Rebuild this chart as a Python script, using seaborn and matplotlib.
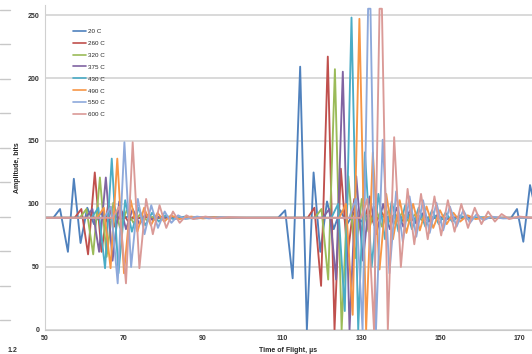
import numpy as np
import pandas as pd
import matplotlib.pyplot as plt
import seaborn as sns
from matplotlib.lines import Line2D

# extrema: (time of flight in us, amplitude in bits)
t_20 = [50, 52.1, 53.8, 55.8, 57.3, 59.0, 60.7, 62.4, 64.1, 65.8, 67.5, 69.2, 71, 73, 75, 77, 80, 83, 86, 90,
        109, 110.8, 112.7, 114.6, 116.3, 118.0, 119.7, 121.4, 123.1, 124.8, 126.5, 128.2, 130, 131.7, 133.4, 135,
        140, 142, 143.7, 145.4, 147.1, 148.8, 150.5, 155, 168, 169.5, 171.1, 172.8, 173.6]
a_20 = [89, 89, 96, 62, 120, 69, 97, 84, 93, 86, 91, 88, 90, 88, 90, 88.5, 89.5, 88.5, 89.5, 89,
        89, 95, 41, 209, 0, 125, 62, 102, 80, 95, 84, 93, 86, 91, 88, 90,
        89, 92, 85, 92, 86, 90, 88, 89, 89, 96, 70, 115, 104]

t_260 = [50, 57.5, 59.2, 60.9, 62.6, 64.3, 66.0, 67.7, 69.4, 71.1, 72.8, 74.5, 76.2, 78, 81, 84, 87, 91,
         116.5, 118.2, 119.9, 121.6, 123.3, 124.9, 126.6, 128.3, 130, 131.7, 133.4, 135.1, 136.8, 138.5, 140.2,
         141.9, 143.6, 145.3, 147, 149, 152, 156, 173.6]
a_260 = [89, 89, 96, 60, 125, 62, 100, 82, 94, 86, 91, 88, 90, 88.5, 89.5, 88.5, 89.5, 89,
         89, 97, 35, 217, 0, 128, 58, 104, 78, 97, 83, 94, 85, 92, 86,
         92, 86, 91, 87, 90, 88.5, 89, 89]

t_320 = [50, 58.8, 60.5, 62.2, 63.9, 65.6, 67.3, 69.0, 70.7, 72.4, 74.1, 75.8, 77.5, 80, 83, 86, 89, 93,
         118.3, 120, 121.7, 123.4, 125.1, 126.8, 128.5, 130.2, 131.9, 133.6, 135.3, 137, 138.7, 140.4, 142.1,
         143.8, 145.5, 147.5, 150, 154, 173.6]
a_320 = [89, 89, 96, 60, 121, 58, 101, 81, 95, 85, 92, 87, 90, 88.5, 89.5, 88.5, 89.5, 89,
         89, 96, 40, 207, 0, 122, 57, 104, 78, 98, 82, 95, 84, 93, 86,
         92, 87, 90, 88.5, 89, 89]

t_375 = [50, 60.3, 62.0, 63.7, 65.4, 67.1, 68.8, 70.5, 72.2, 73.9, 75.6, 77.3, 79, 81.5, 84.5, 87.5, 90.5, 95,
         120.3, 122, 123.7, 125.4, 127.1, 128.8, 130.5, 132.2, 133.9, 135.6, 137.3, 139, 140.7, 142.4, 144.1,
         145.8, 147.5, 149.2, 151, 154, 158, 173.6]
a_375 = [89, 89, 96, 62, 121, 55, 102, 80, 96, 84, 92, 87, 90, 88.5, 89.5, 88.5, 89.5, 89,
         89, 96, 40, 205, 0, 122, 55, 106, 76, 100, 80, 97, 82, 95, 84,
         93, 86, 91, 88, 89.5, 89, 89]

t_430 = [50, 61.8, 63.5, 65.2, 66.9, 68.6, 70.3, 72, 73.7, 75.4, 77.1, 78.8, 80.5, 82.5, 85.5, 88.5, 91.5, 96,
         122.5, 124.2, 125.9, 127.6, 129.3, 131.0, 132.7, 134.4, 136.1, 137.8, 139.5, 141.2, 142.9, 144.6, 146.3,
         148, 149.7, 151.4, 153.1, 155, 157, 160, 163, 173.6]
a_430 = [89, 89, 97, 49, 136, 45, 103, 78, 97, 83, 93, 86, 91, 88, 90, 88.5, 89.5, 89,
         89, 100, 15, 248, 0, 141, 50, 108, 72, 102, 78, 99, 80, 97, 82,
         95, 84, 93, 86, 91, 88, 89.5, 89, 89]

t_490 = [50, 63.2, 64.9, 66.6, 68.3, 70, 71.7, 73.4, 75.1, 76.8, 78.5, 80.2, 81.9, 84, 87, 90, 93, 97,
         124.5, 126.2, 127.9, 129.6, 131.3, 133.0, 134.7, 136.4, 138.1, 139.8, 141.5, 143.2, 144.9, 146.6, 148.3,
         150, 151.7, 153.4, 155.1, 157, 159, 162, 165, 173.6]
a_490 = [89, 89, 97, 49, 136, 45, 103, 78, 97, 83, 93, 86, 91, 88, 90, 88.5, 89.5, 89,
         89, 100, 12, 247, 0, 141, 48, 108, 72, 103, 77, 100, 79, 98, 81,
         95, 84, 93, 86, 91, 88, 89.5, 89, 89]

t_550 = [50, 65, 66.7, 68.4, 70.1, 71.8, 73.5, 75.2, 76.9, 78.6, 80.3, 82, 83.7, 85.5, 88.5, 91.5, 94.5, 99,
         127, 128.7, 130.4, 131.8, 132.4, 133.8, 135.5, 137.2, 138.9, 140.6, 142.3, 144, 145.7, 147.4, 149.1,
         150.8, 152.5, 154.2, 155.9, 157.6, 159.3, 161, 163, 166, 170, 173.6]
a_550 = [89, 89, 98, 37, 149, 50, 104, 76, 99, 81, 94, 85, 91, 88, 90, 88.5, 89.5, 89,
         89, 104, 0, 255, 255, 0, 151, 45, 110, 70, 106, 74, 103, 77, 101,
         79, 98, 82, 95, 85, 92, 87, 90, 88.5, 89, 89]

t_600 = [50, 67.1, 68.8, 70.5, 72.2, 73.9, 75.6, 77.3, 79, 80.7, 82.4, 84.1, 85.8, 87.6, 90.6, 93.6, 96.6, 101,
         130, 131.6, 133.3, 134.7, 135.3, 136.8, 138.4, 140.1, 141.8, 143.5, 145.2, 146.9, 148.6, 150.3, 152,
         153.7, 155.4, 157.1, 158.8, 160.5, 162.2, 163.9, 165.6, 167.5, 170, 173.6]
a_600 = [89, 89, 98, 37, 149, 49, 104, 76, 99, 81, 94, 85, 91, 88, 90, 88.5, 89.5, 89,
         89, 104, 0, 255, 255, 0, 153, 50, 112, 68, 108, 72, 106, 75, 103,
         78, 100, 81, 97, 84, 94, 86, 92, 88, 90, 89]

labels = ["20 C", "260 C", "320 C", "375 C", "430 C", "490 C", "550 C", "600 C"]
colors = ["#4F81BD", "#C0504D", "#9BBB59", "#8064A2", "#4BACC6", "#F79646", "#8EA9DB", "#DA9A97"]
x_ticks = [50, 70, 90, 110, 130, 150, 170]
y_ticks = [0, 50, 100, 150, 200, 250]

series = [(t_20, a_20), (t_260, a_260), (t_320, a_320), (t_375, a_375),
          (t_430, a_430), (t_490, a_490), (t_550, a_550), (t_600, a_600)]
frames = []
for lab, (t, a) in zip(labels, series):
    frames.append(pd.DataFrame({"t": t, "amp": a, "series": lab}))
df = pd.concat(frames, ignore_index=True)

sns.set_style("white")
plt.rcParams["font.family"] = ["Liberation Sans", "DejaVu Sans"]

fig = plt.figure(figsize=(5.32, 3.54), dpi=100)
ax = fig.add_axes([0.0846, 0.068, 0.9154, 0.918])

sns.lineplot(data=df, x="t", y="amp", hue="series", palette=colors, hue_order=labels,
             sort=False, estimator=None, linewidth=1.35, ax=ax, legend=False)
for line in ax.get_lines():
    line.set_solid_joinstyle("round")

ax.set_xlim(50, 173.3)
ax.set_ylim(0, 258)
ax.set_xticks(x_ticks)
ax.set_yticks(y_ticks)
ax.tick_params(length=0, labelsize=5, pad=4, labelcolor="#333333")
for lbl in ax.get_xticklabels() + ax.get_yticklabels():
    lbl.set_fontweight("bold")
ax.yaxis.grid(True, color="#d0d0d0", linewidth=1.1)
ax.xaxis.grid(False)
for side in ["top", "right"]:
    ax.spines[side].set_visible(False)
ax.spines["left"].set_color("#d0d0d0")
ax.spines["bottom"].set_color("#c8c8c8")
ax.set_axisbelow(True)

ax.set_xlabel("Time of Flight, \u00b5s", fontsize=5, fontweight="bold", labelpad=3)
ax.set_ylabel("Amplitude, bits", fontsize=5, fontweight="bold", labelpad=5)

handles = [Line2D([0], [0], color=c, lw=1.2) for c in colors]
ax.legend(handles, labels, loc="upper left", bbox_to_anchor=(0.045, 0.945), frameon=False,
          fontsize=4.5, handlelength=2.2, handletextpad=0.3, labelspacing=1.05)

# stray tick marks and label from a neighbouring chart at the left edge
for yp in np.linspace(10, 320, 10):
    fig.add_artist(Line2D([0, 10 / 532], [1 - yp / 354] * 2, color="#c8c8c8", lw=1))
fig.text(8 / 532, 1 - 350 / 354, "1.2", fontsize=5, fontweight="bold", va="center", color="#333333")

fig.savefig("out.png", dpi=100)
